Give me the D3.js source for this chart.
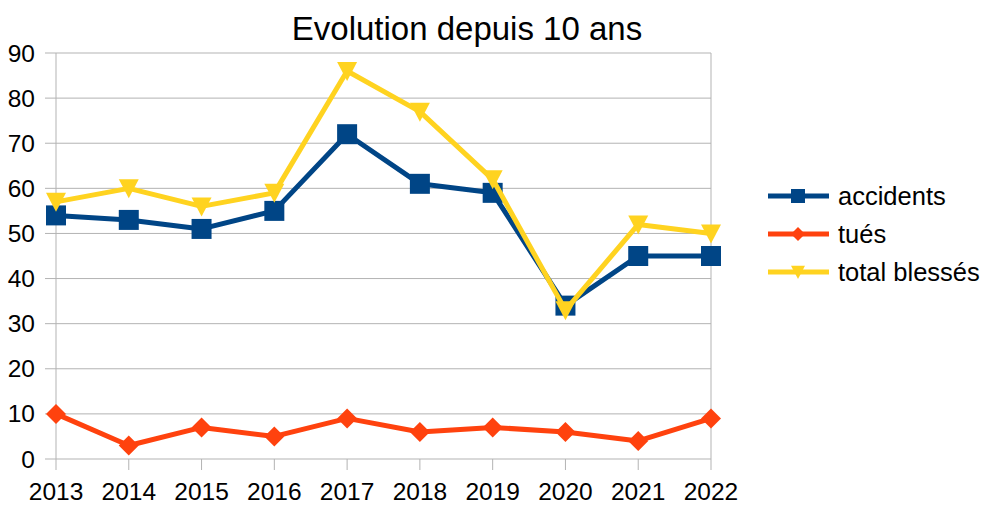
<!DOCTYPE html>
<html>
<head>
<meta charset="utf-8">
<script src="https://cdn.jsdelivr.net/npm/d3@7"></script>
<style>
  body { margin: 0; background: #fff; }
  svg { font-family: "Liberation Sans", Arial, sans-serif; }
</style>
</head>
<body>
<svg id="chart" width="985" height="506"></svg>
<script>
// Data
var years = ["2013", "2014", "2015", "2016", "2017", "2018", "2019", "2020", "2021", "2022"];
var accidents = [54, 53, 51, 55, 72, 61, 59, 34, 45, 45];
var tues = [10, 3, 7, 5, 9, 6, 7, 6, 4, 9];
var blesses = [57, 60, 56, 59, 86, 77, 62, 33, 52, 50];
var yTicks = [0, 10, 20, 30, 40, 50, 60, 70, 80, 90];

var series = [
  {name: "accidents", values: accidents, color: "#004586", marker: "square"},
  {name: "tués", values: tues, color: "#ff420e", marker: "diamond"},
  {name: "total blessés", values: blesses, color: "#ffd320", marker: "triangle"}
];

// Plot area
var margin = {top: 53, left: 56},
    width = 655, height = 406;

var svg = d3.select("#chart");
var g = svg.append("g").attr("transform", "translate(" + margin.left + "," + margin.top + ")");

var xScale = d3.scalePoint().domain(years).range([0, width]);
var yScale = d3.scaleLinear().domain([0, 90]).range([height, 0]);

// Horizontal grid
g.selectAll(".grid").data(yTicks).enter().append("line")
    .attr("x1", -11).attr("x2", width)
    .attr("y1", function(d) { return yScale(d); })
    .attr("y2", function(d) { return yScale(d); })
    .attr("stroke", "#b3b3b3").attr("stroke-width", 1);

// Left / right frame
[0, width].forEach(function(x) {
  g.append("line").attr("x1", x).attr("x2", x).attr("y1", 0).attr("y2", height)
      .attr("stroke", "#b3b3b3");
});

// x ticks below
g.selectAll(".xtick").data(years).enter().append("line")
    .attr("x1", function(d) { return xScale(d); })
    .attr("x2", function(d) { return xScale(d); })
    .attr("y1", height).attr("y2", height + 11)
    .attr("stroke", "#b3b3b3");

// Y labels
g.selectAll(".ylab").data(yTicks).enter().append("text")
    .attr("x", -21)
    .attr("y", function(d) { return yScale(d); })
    .attr("dy", "0.35em")
    .attr("text-anchor", "end")
    .attr("font-size", 24.5)
    .attr("fill", "#000")
    .text(function(d) { return d; });

// X labels
g.selectAll(".xlab").data(years).enter().append("text")
    .attr("x", function(d) { return xScale(d); })
    .attr("y", height + 41)
    .attr("text-anchor", "middle")
    .attr("font-size", 24.5)
    .attr("fill", "#000")
    .text(function(d) { return d; });

// Marker shapes
function markerPath(type, k) {
  var p;
  if (type === "square") p = [[-10,-10],[10,-10],[10,10],[-10,10]];
  else if (type === "diamond") p = [[0,-10],[10,0],[0,10],[-10,0]];
  else p = [[-10,-9],[10,-9],[0,10]];
  return "M" + p.map(function(q) { return (q[0]*k) + "," + (q[1]*k); }).join("L") + "Z";
}

var line = d3.line()
    .x(function(d, i) { return xScale(years[i]); })
    .y(function(d) { return yScale(d); });

series.forEach(function(s) {
  g.append("path")
      .datum(s.values)
      .attr("d", line)
      .attr("fill", "none")
      .attr("stroke", s.color)
      .attr("stroke-width", 5)
      .attr("stroke-linejoin", "round");
  g.selectAll(".m-" + s.marker).data(s.values).enter().append("path")
      .attr("transform", function(d, i) { return "translate(" + xScale(years[i]) + "," + yScale(d) + ")"; })
      .attr("d", markerPath(s.marker, 1))
      .attr("fill", s.color);
});

// Title
svg.append("text")
    .attr("x", 467).attr("y", 40)
    .attr("text-anchor", "middle")
    .attr("font-size", 33)
    .attr("fill", "#000")
    .text("Evolution depuis 10 ans");

// Legend
var legend = svg.append("g").attr("transform", "translate(768,196)");
series.forEach(function(s, i) {
  var row = legend.append("g").attr("transform", "translate(0," + (i * 38) + ")");
  row.append("line").attr("x1", 0).attr("x2", 61).attr("y1", 0).attr("y2", 0)
      .attr("stroke", s.color).attr("stroke-width", 5);
  row.append("path").attr("transform", "translate(30,0)")
      .attr("d", markerPath(s.marker, 0.7)).attr("fill", s.color);
  row.append("text").attr("x", 70).attr("y", 0).attr("dy", "0.35em")
      .attr("font-size", 25.5).attr("fill", "#000").text(s.name);
});
</script>
</body>
</html>
